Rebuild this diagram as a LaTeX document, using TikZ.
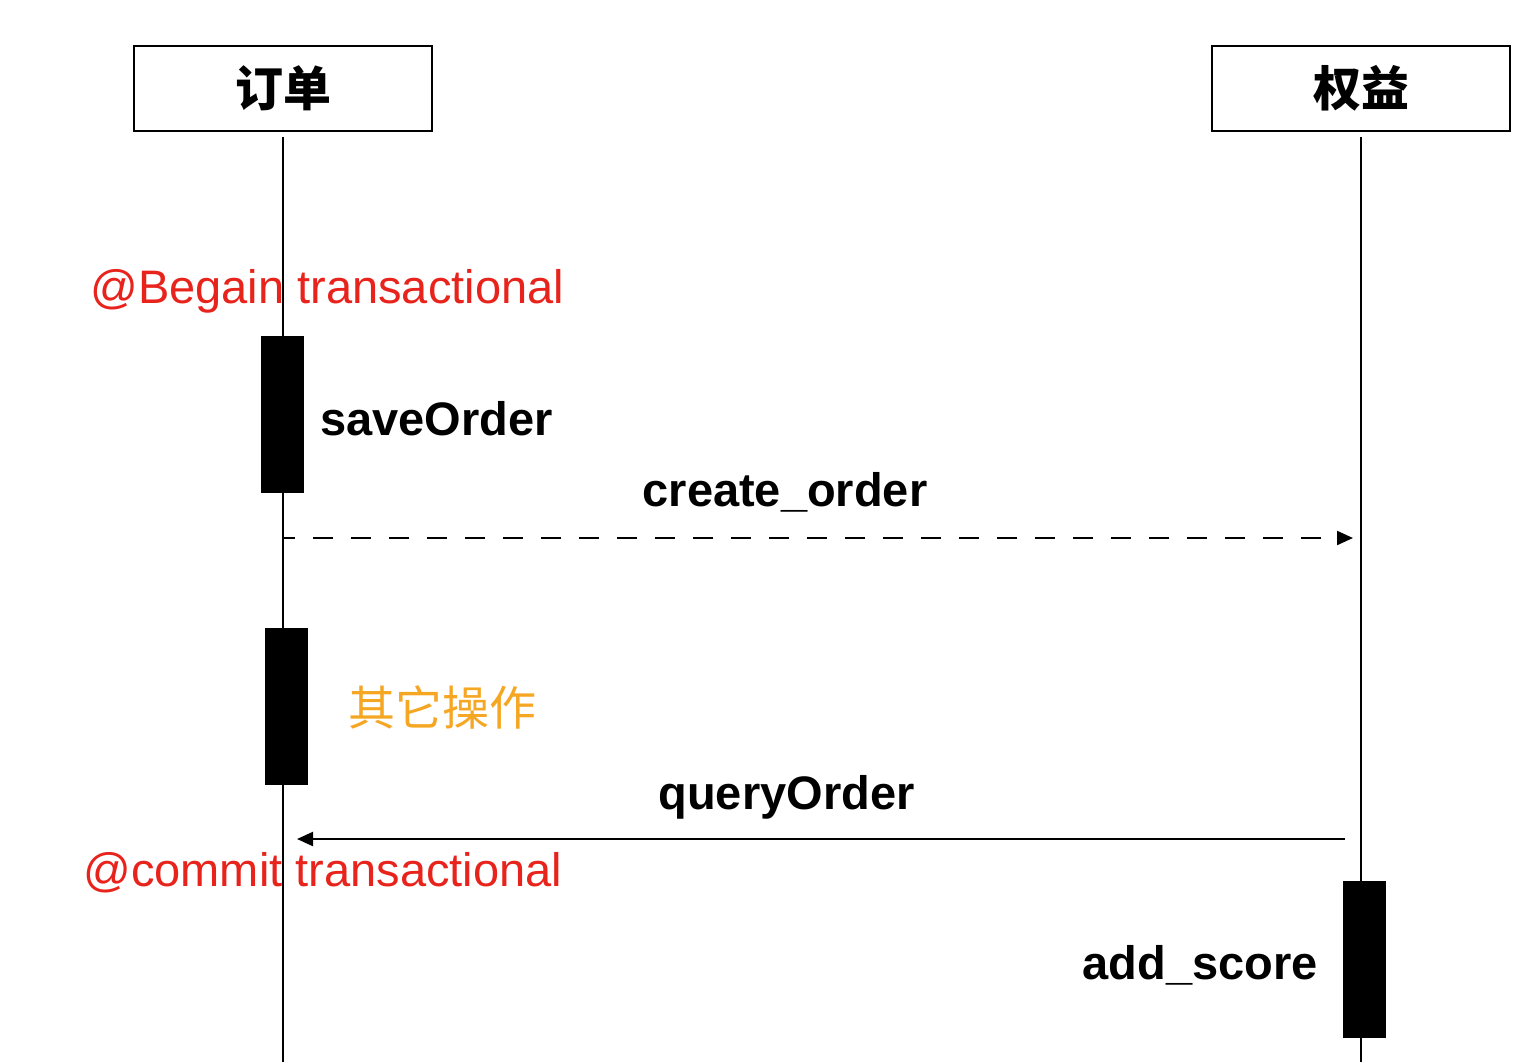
\documentclass[tikz,border=0pt]{standalone}
\usepackage{fontspec}
\setmainfont{Liberation Sans}
\newfontfamily\cjk{Noto Sans CJK SC}
\usetikzlibrary{arrows.meta}
\definecolor{txred}{HTML}{E8231C}
\definecolor{txorange}{HTML}{F5A623}
\begin{document}
\begin{tikzpicture}[x=0.5pt,y=-0.5pt,
  actor/.style={draw,line width=1.1pt,minimum width=149pt,minimum height=42.5pt,inner sep=0pt,font=\cjk\bfseries\fontsize{24}{28}\selectfont},
  life/.style={line width=1.1pt},
  actbar/.style={fill=black,draw=none,minimum width=21.5pt,minimum height=78.5pt,inner sep=0pt},
  redtxt/.style={text=txred,font=\fontsize{23.5}{28}\selectfont,inner sep=0pt},
  msg/.style={font=\bfseries\fontsize{23.5}{28}\selectfont,inner sep=0pt},
  arr/.style={line width=1.1pt,-{Triangle[length=8pt,width=7pt]}}
]
\useasboundingbox (0,0) rectangle (1539,1062);
% actors
\node[actor] (order) at (283,88.5) {订单};
\node[actor] (rights) at (1361,88.5) {权益};
% lifelines
\coordinate (os) at (283,137);
\coordinate (oe) at (283,1062);
\coordinate (rs) at (1361,137);
\coordinate (re) at (1361,1062);
\draw[life] (os) -- (oe);
\draw[life] (rs) -- (re);
% activation bars
\node[actbar] (b1) at (282.5,414.5) {};
\node[actbar] (b2) at (286,706.5) {};
\node[actbar] (b3) at (1364,959) {};
% texts
\node[redtxt,anchor=west] (begin) at (90,291) {@Begain transactional};
\node[msg,anchor=west] (save) at (320,419) {saveOrder};
\node[msg] (create) at (785,492) {create\_order};
\node[anchor=west,inner sep=0pt,text=txorange,font=\cjk\fontsize{23.5}{28}\selectfont] (other) at (348,707) {其它操作};
\node[msg] (query) at (786.5,797) {queryOrder};
\node[redtxt,anchor=west] (commit) at (83,873) {@commit transactional};
\node[msg,anchor=east] (add) at (1318,965) {add\_score};
% messages
\coordinate (c1) at (283,538);
\coordinate (c2) at (1353,538);
\draw[arr,dash pattern=on 10pt off 9pt,dash phase=4pt] (c1) -- (c2);
\coordinate (q1) at (1345,839);
\coordinate (q2) at (297,839);
\draw[arr] (q1) -- (q2);
\end{tikzpicture}
\end{document}
